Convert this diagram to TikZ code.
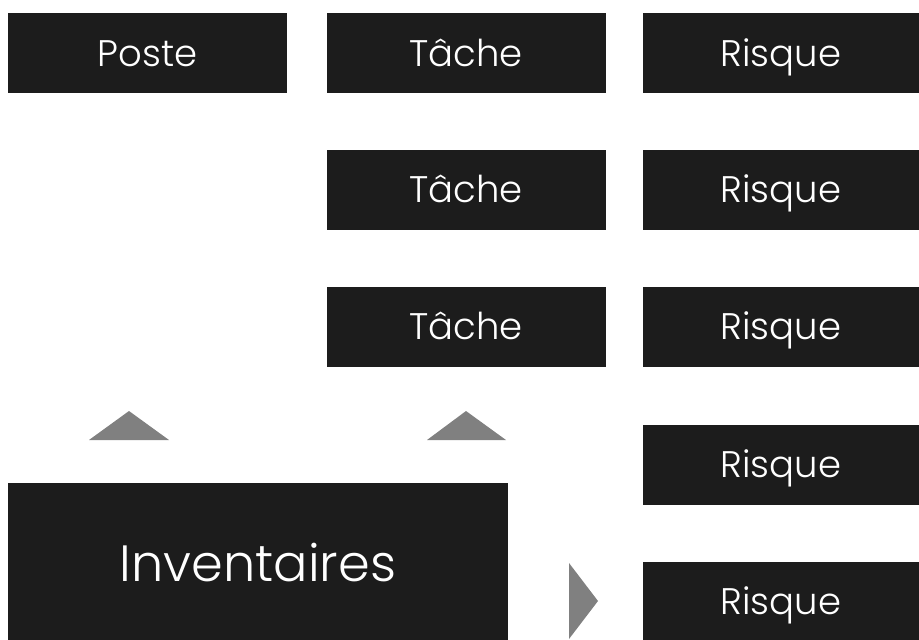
\documentclass[tikz,border=0pt]{standalone}
\usepackage{fontspec}
\setmainfont{Poppins}[UprightFont=* Light]
\definecolor{boxfill}{RGB}{28,28,28}
\definecolor{arrowgray}{RGB}{128,128,128}
\tikzset{
  block/.style={fill=boxfill, text=white, inner sep=0pt, minimum width=279pt, minimum height=80pt,
    text height=26pt, text depth=0pt, font=\fontsize{37}{37}\selectfont},
  bigblock/.style={block, minimum width=500pt, minimum height=160pt, text height=36pt,
    font=\fontsize{51}{51}\selectfont},
  pointer/.style={fill=arrowgray}
}
\begin{document}
\begin{tikzpicture}[x=1pt, y=-1pt]
  \useasboundingbox (0,0) rectangle (919,640);
  % colonnes du haut
  \node[block] (poste) at (147.5,53) {Poste};
  \foreach \i/\r in {1/53, 2/189.5, 3/326.5}
    \node[block] (tache\i) at (466,\r) {Tâche};
  \foreach \i/\r in {1/53, 2/189.5, 3/326.5, 4/464.5, 5/601.5}
    \node[block, minimum width=276pt] (risque\i) at (781,\r) {Risque};
  % bloc du bas
  \node[bigblock] (inventaires) at (258,563) {Inventaires};
  % fleches
  \fill[pointer] (89,440) -- (169,440) -- (129,411) -- cycle;
  \fill[pointer] (427,440) -- (506,440) -- (466,411) -- cycle;
  \fill[pointer] (569,563) -- (569,639) -- (598,601) -- cycle;
\end{tikzpicture}
\end{document}
